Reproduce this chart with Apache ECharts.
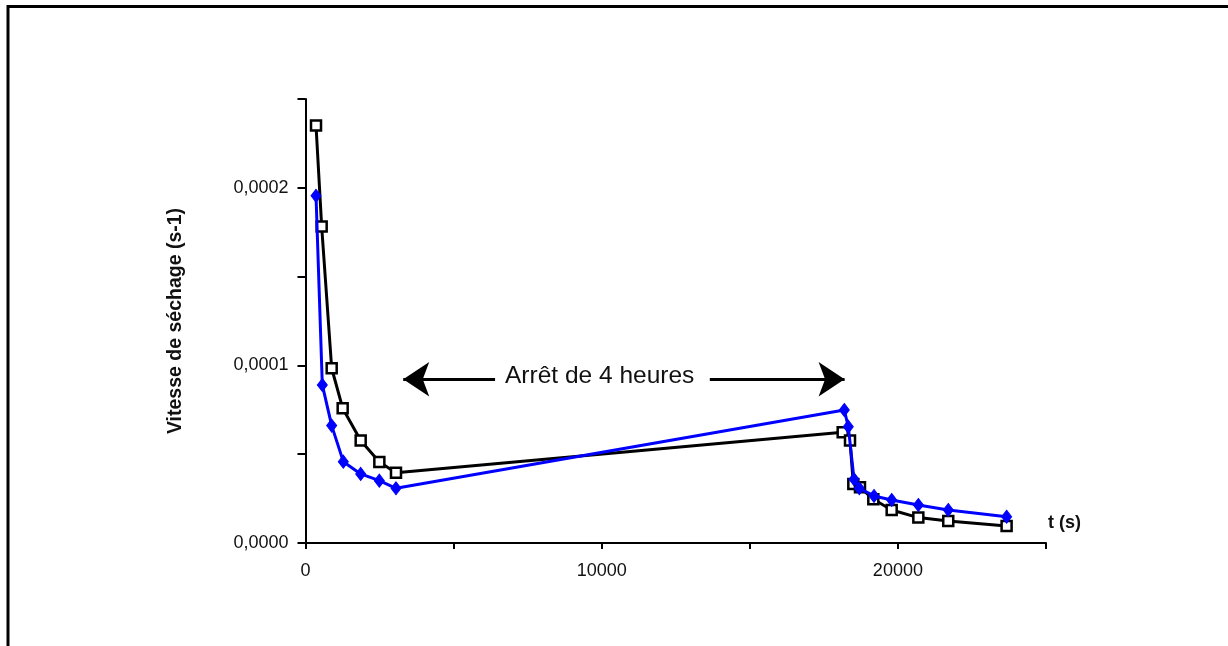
<!DOCTYPE html>
<html>
<head>
<meta charset="utf-8">
<script src="https://cdn.jsdelivr.net/npm/echarts@6/dist/echarts.min.js"></script>
<style>
  html, body { margin: 0; padding: 0; background: #fff; }
  #chart { width: 1228px; height: 646px; }
</style>
</head>
<body>
<div id="chart"></div>
<script>
// ---- data ----
const tBlack = [355, 546, 884, 1255, 1863, 2493, 3055, 18136, 18383, 18495, 18720, 19170, 19790, 20690, 21700, 23670];
const vBlack = [0.0002351, 0.0001782, 0.0000984, 0.0000759, 0.0000577, 0.0000456, 0.0000396, 0.0000623, 0.0000577, 0.0000332, 0.0000314, 0.0000246, 0.0000186, 0.0000143, 0.0000124, 0.0000096];
const tBlue = [355, 568, 884, 1277, 1863, 2493, 3055, 18190, 18325, 18518, 18697, 19193, 19790, 20690, 21700, 23670];
const vBlue = [0.0001955, 0.0000890, 0.0000661, 0.0000458, 0.0000389, 0.0000351, 0.0000308, 0.0000749, 0.0000655, 0.0000359, 0.0000308, 0.0000265, 0.0000242, 0.0000214, 0.0000186, 0.0000148];
const xLabels = ['0', '10000', '20000'];
const yLabels = ['0,0000', '0,0001', '0,0002'];
const yAxisTitle = 'Vitesse de séchage (s-1)';
const xAxisTitle = 't (s)';
const annotation = 'Arrêt de 4 heures';
// arrows of the annotation, in data coordinates
const arrowY = 0.0000922;
const leftArrow = [6400, 3300];
const rightArrow = [13650, 18200];

const FONT = '"Liberation Sans", Arial, Helvetica, sans-serif';

const chart = echarts.init(document.getElementById('chart'), null, { renderer: 'canvas' });

function zip(a, b) { return a.map((x, i) => [x, b[i]]); }

const option = {
  backgroundColor: '#ffffff',
  animation: false,
  grid: { left: 305.5, top: 99, right: 182, bottom: 103, containLabel: false },
  xAxis: {
    type: 'value', min: 0, max: 25000, interval: 5000,
    axisLine: { show: true, onZero: false, lineStyle: { color: '#000', width: 2 } },
    axisTick: { show: true, length: 6, lineStyle: { color: '#000', width: 2 } },
    splitLine: { show: false },
    axisLabel: {
      margin: 19, color: '#111', fontFamily: FONT, fontSize: 18,
      formatter: v => { const s = String(Math.round(v)); return xLabels.indexOf(s) >= 0 ? s : ''; }
    }
  },
  yAxis: {
    type: 'value', min: 0, max: 0.00025, interval: 0.00005,
    name: yAxisTitle, nameLocation: 'middle', nameGap: 120, nameRotate: 90,
    nameTextStyle: { fontFamily: FONT, fontSize: 19.5, fontWeight: 'bold', color: '#111' },
    axisLine: { show: true, lineStyle: { color: '#000', width: 2 } },
    axisTick: { show: true, length: 8, lineStyle: { color: '#000', width: 2 } },
    splitLine: { show: false },
    axisLabel: {
      margin: 17, color: '#111', fontFamily: FONT, fontSize: 18,
      formatter: v => {
        const k = Math.round(v / 0.00005);
        return (k % 2 === 0 && yLabels[k / 2] !== undefined) ? yLabels[k / 2] : '';
      }
    }
  },
  series: [
    {
      type: 'line', data: zip(tBlack, vBlack),
      symbol: 'rect', symbolSize: 10,
      lineStyle: { color: '#000', width: 3 },
      itemStyle: { color: '#fff', borderColor: '#000', borderWidth: 2.5 },
      z: 2,
      markLine: {
        silent: true, animation: false,
        symbol: ['none', 'arrow'], symbolSize: 26,
        lineStyle: { color: '#000', width: 3, type: 'solid' },
        label: { show: false },
        data: [
          [{ coord: [leftArrow[0], arrowY] }, { coord: [leftArrow[1], arrowY] }],
          [{ coord: [rightArrow[0], arrowY] }, { coord: [rightArrow[1], arrowY] }]
        ]
      }
    },
    {
      type: 'line', data: zip(tBlue, vBlue),
      symbol: 'diamond', symbolSize: [10, 13],
      lineStyle: { color: '#0000ff', width: 3 },
      itemStyle: { color: '#0000ff', borderColor: '#0000ff', borderWidth: 1 },
      z: 3
    }
  ],
  graphic: [
    { type: 'rect', shape: { x: 8, y: 6.5, width: 1400, height: 800 },
      style: { fill: null, stroke: '#000', lineWidth: 3 }, silent: true },
    { type: 'text', left: 505, top: 364,
      style: { text: annotation, font: '24.5px ' + FONT, fill: '#111' } },
    { type: 'text', left: 1048, top: 514,
      style: { text: xAxisTitle, font: 'bold 18px ' + FONT, fill: '#111' } }
  ]
};
chart.setOption(option);
</script>
</body>
</html>
